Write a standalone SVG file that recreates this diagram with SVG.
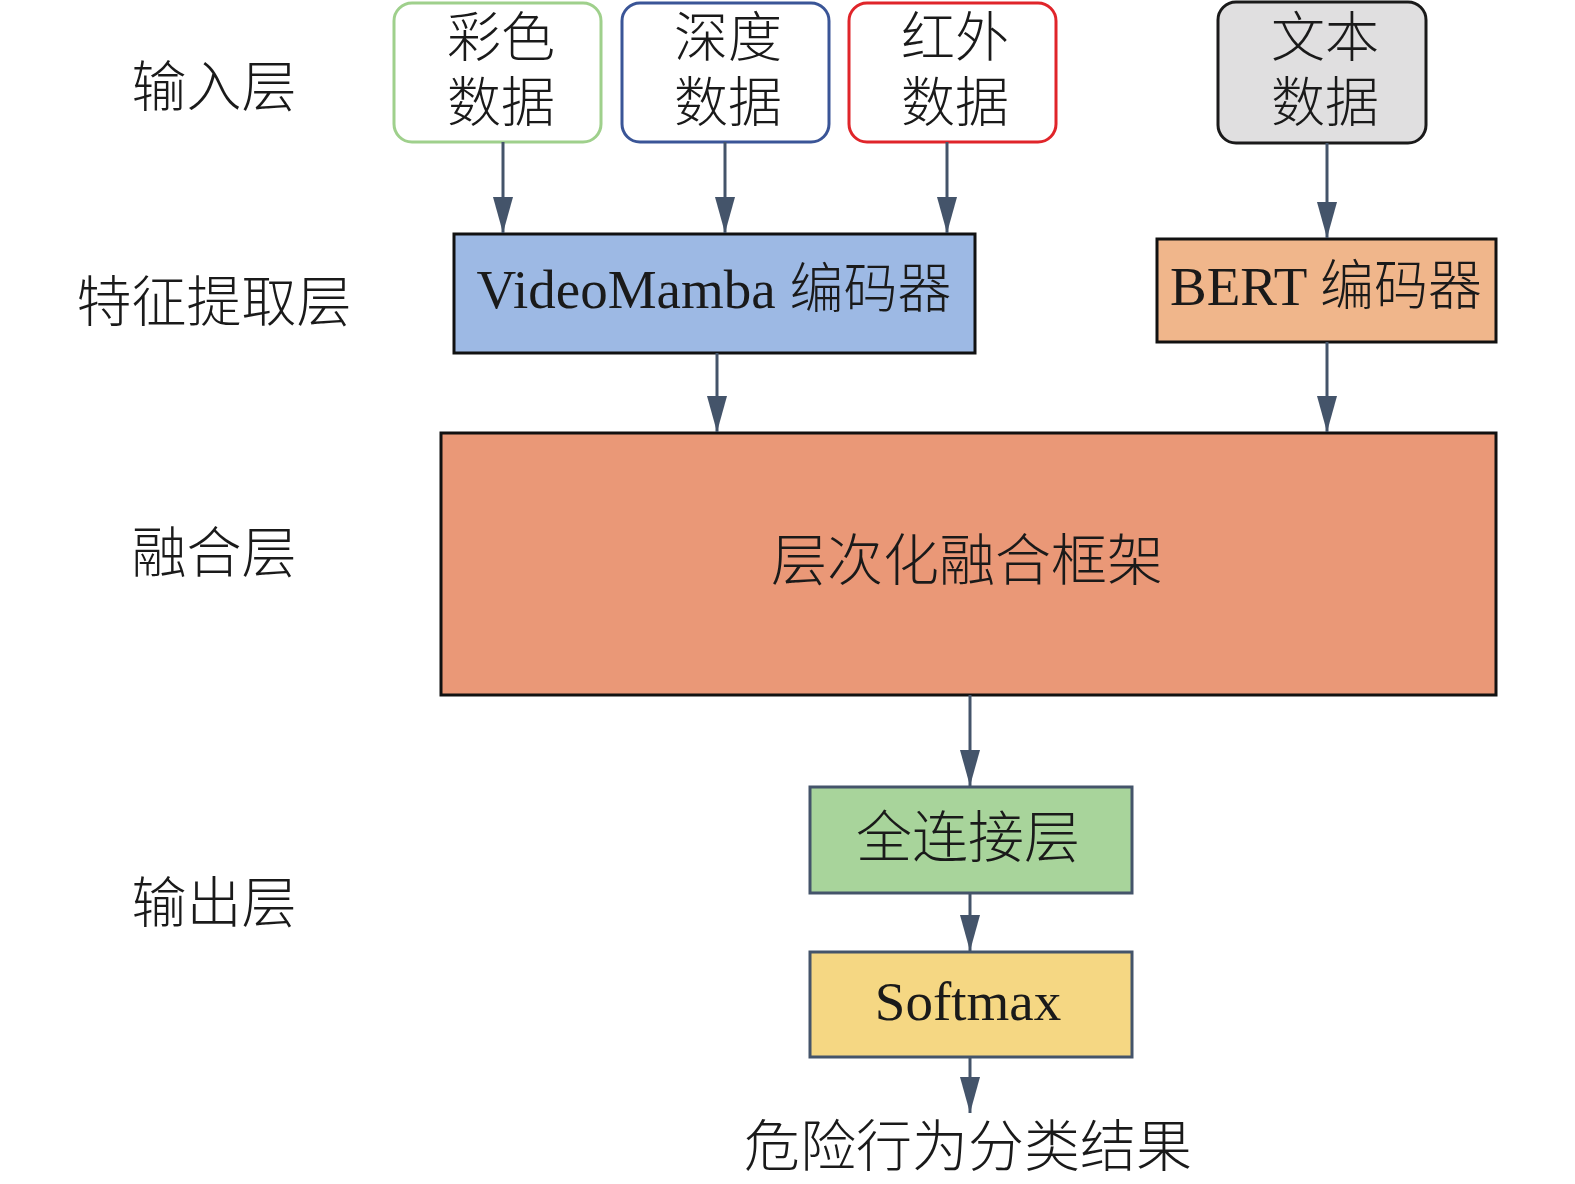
<svg xmlns="http://www.w3.org/2000/svg" width="1575" height="1184" viewBox="0 0 1575 1184">
<defs>
<marker id="ah" markerUnits="userSpaceOnUse" markerWidth="36" markerHeight="22" refX="36" refY="11" orient="auto">
<path d="M0,1 L36,11 L0,21 z" fill="#44546a"/>
</marker>
<style>
text{font-family:"Liberation Serif","Noto Sans CJK SC",serif;fill:#1a1a1a;text-anchor:middle;font-size:55px}
.cjk{font-family:"Noto Sans CJK SC","Liberation Serif",sans-serif;font-weight:300;font-size:54px}
.big{font-size:56px}
.lbl{font-family:"Noto Sans CJK SC","Liberation Serif",sans-serif;font-weight:300;font-size:55px}
.in{stroke-width:3}
.conn line{stroke:#44546a;stroke-width:3;marker-end:url(#ah)}
</style>
</defs>
<rect width="1575" height="1184" fill="#ffffff"/>

<g id="layer-labels">
<text class="lbl" x="214" y="106">输入层</text>
<text class="lbl" x="214" y="321">特征提取层</text>
<text class="lbl" x="214" y="572">融合层</text>
<text class="lbl" x="214" y="922">输出层</text>
</g>

<g id="node-color">
<rect x="394" y="3" width="207" height="139" rx="18" fill="#ffffff" stroke="#9fd08c" class="in"/>
<text class="cjk" x="501" y="57">彩色</text>
<text class="cjk" x="501" y="122">数据</text>
</g>
<g id="node-depth">
<rect x="622" y="3" width="207" height="139" rx="18" fill="#ffffff" stroke="#3a5597" class="in"/>
<text class="cjk" x="728" y="57">深度</text>
<text class="cjk" x="728" y="122">数据</text>
</g>
<g id="node-ir">
<rect x="849" y="3" width="207" height="139" rx="18" fill="#ffffff" stroke="#e0252a" class="in"/>
<text class="cjk" x="955" y="57">红外</text>
<text class="cjk" x="955" y="122">数据</text>
</g>
<g id="node-text">
<rect x="1218" y="2" width="208" height="141" rx="18" fill="#e0dfe0" stroke="#1a1a1a" class="in"/>
<text class="cjk" x="1325" y="57">文本</text>
<text class="cjk" x="1325" y="122">数据</text>
</g>

<g id="node-videomamba">
<rect x="454" y="234" width="521" height="119" fill="#9db9e4" stroke="#111111" stroke-width="3"/>
<text x="714" y="308">VideoMamba <tspan class="cjk">编码器</tspan></text>
</g>
<g id="node-bert">
<rect x="1157" y="239" width="339" height="103" fill="#f0b68b" stroke="#111111" stroke-width="3"/>
<text x="1326" y="305">BERT <tspan class="cjk">编码器</tspan></text>
</g>

<g id="node-fusion">
<rect x="441" y="433" width="1055" height="262" fill="#ea9877" stroke="#111111" stroke-width="3"/>
<text class="cjk big" x="967" y="580">层次化融合框架</text>
</g>

<g id="node-fc">
<rect x="810" y="787" width="322" height="106" fill="#a8d49b" stroke="#44546a" stroke-width="3"/>
<text class="cjk big" x="968" y="857">全连接层</text>
</g>
<g id="node-softmax">
<rect x="810" y="952" width="322" height="105" fill="#f5d783" stroke="#44546a" stroke-width="3"/>
<text x="968" y="1020">Softmax</text>
</g>

<g id="node-result">
<text class="cjk big" x="968" y="1166">危险行为分类结果</text>
</g>

<g class="conn" id="connectors">
<line x1="503" y1="142" x2="503" y2="233"/>
<line x1="725" y1="142" x2="725" y2="233"/>
<line x1="947" y1="142" x2="947" y2="233"/>
<line x1="1327" y1="143" x2="1327" y2="238"/>
<line x1="717" y1="353" x2="717" y2="432"/>
<line x1="1327" y1="342" x2="1327" y2="432"/>
<line x1="970" y1="695" x2="970" y2="786"/>
<line x1="970" y1="893" x2="970" y2="951"/>
<line x1="970" y1="1057" x2="970" y2="1113"/>
</g>
</svg>
